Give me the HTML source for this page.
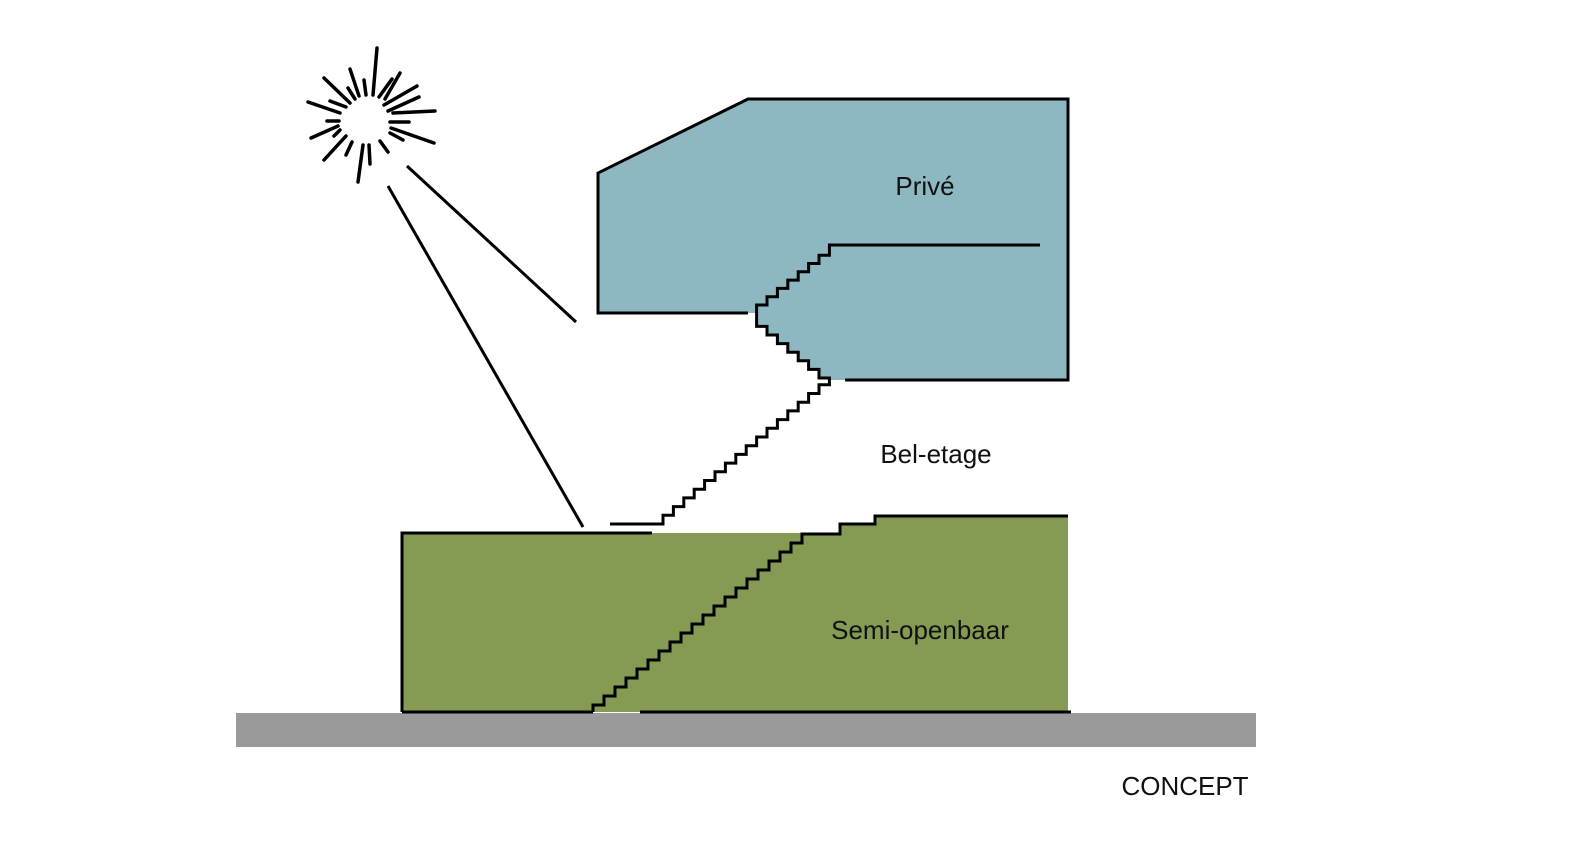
<!DOCTYPE html>
<html><head><meta charset="utf-8"><style>
html,body{margin:0;padding:0;background:#fff;}
svg{display:block;}
text{font-family:"Liberation Sans",Arial,sans-serif;fill:#111;}
</style></head><body>
<svg width="1580" height="855" viewBox="0 0 1580 855" xmlns="http://www.w3.org/2000/svg">
<rect x="236" y="713" width="1020" height="34" fill="#9a9a9a"/>
<!-- green -->
<path d="M402,533 H840 V524 H875 V516 H1068 V712 H402 Z" fill="#859a53"/>
<path d="M402,712 V533 H652" fill="none" stroke="#000" stroke-width="3"/>
<path d="M402,712 H593 M640,712 H1071" fill="none" stroke="#000" stroke-width="3"/>
<path d="M593,712 V705 h11v-9 h11v-9 h11v-9 h11v-9 h11v-9 h11v-9 h11v-9 h11v-9 h11v-9 h11v-9 h11v-9 h11v-9 h11v-9 h11v-9 h11v-9 h11v-9 h11v-9 h11v-9 h11v-9 H840 V524 H875 V516 H1068" fill="none" stroke="#000" stroke-width="3"/>
<!-- blue -->
<path d="M598,173 L748,99 H1068 V380 H830 V378 h-10.4v-8.6 h-10.4v-8.6 h-10.4v-8.6 h-10.4v-8.6 h-10.4v-8.6 h-10.4v-8.6 h-10.4v-8.6 V313 H598 Z" fill="#8db8c1"/>
<path d="M748,313 H598 V173 L748,99 H1068 V380 H845" fill="none" stroke="#000" stroke-width="3"/>
<path d="M610,524 H663 v-8.7h10.4 v-8.7h10.4 v-8.7h10.4 v-8.7h10.4 v-8.7h10.4 v-8.7h10.4 v-8.7h10.4 v-8.7h10.4 v-8.7h10.4 v-8.7h10.4 v-8.7h10.4 v-8.7h10.4 v-8.7h10.4 v-8.7h10.4 v-8.7h10.4 v-8.7h10.4 V378 h-10.4v-8.6 h-10.4v-8.6 h-10.4v-8.6 h-10.4v-8.6 h-10.4v-8.6 h-10.4v-8.6 h-10.4v-8.6 V305 h10.4v-8.3 h10.4v-8.3 h10.4v-8.3 h10.4v-8.3 h10.4v-8.3 h10.4v-8.3 h10.4v-8.3 V245 H1040" fill="none" stroke="#000" stroke-width="3"/>
<!-- sun lines -->
<path d="M407,166 L576,322 M388,186 L583,527" stroke="#000" stroke-width="3"/>
<g stroke="#000" stroke-width="3.5" stroke-linecap="round">
<line x1="373" y1="95" x2="377" y2="48"/>
<line x1="379" y1="97" x2="392" y2="79"/>
<line x1="385" y1="99" x2="400" y2="73"/>
<line x1="384" y1="105" x2="417" y2="86"/>
<line x1="388" y1="111" x2="419" y2="97"/>
<line x1="393" y1="113" x2="435" y2="111"/>
<line x1="390" y1="122" x2="409" y2="122"/>
<line x1="391" y1="128" x2="434" y2="143"/>
<line x1="390" y1="133" x2="403" y2="140"/>
<line x1="380" y1="141" x2="388" y2="152"/>
<line x1="369" y1="145" x2="370" y2="164"/>
<line x1="363" y1="145" x2="358" y2="182"/>
<line x1="352" y1="142" x2="346" y2="155"/>
<line x1="346" y1="136" x2="324" y2="160"/>
<line x1="340" y1="130" x2="334" y2="136"/>
<line x1="338" y1="126" x2="311" y2="138"/>
<line x1="339" y1="121" x2="327" y2="121"/>
<line x1="340" y1="113" x2="308" y2="102"/>
<line x1="346" y1="107" x2="330" y2="101"/>
<line x1="350" y1="103" x2="324" y2="78"/>
<line x1="355" y1="99" x2="348" y2="88"/>
<line x1="359" y1="96" x2="350" y2="69"/>
<line x1="366" y1="95" x2="364" y2="80"/>
</g>
<text x="925" y="195" font-size="26" text-anchor="middle">Privé</text>
<text x="936" y="463" font-size="26" text-anchor="middle">Bel-etage</text>
<text x="920" y="639" font-size="26" text-anchor="middle">Semi-openbaar</text>
<text x="1185" y="795" font-size="26" text-anchor="middle">CONCEPT</text>
</svg>
</body></html>
